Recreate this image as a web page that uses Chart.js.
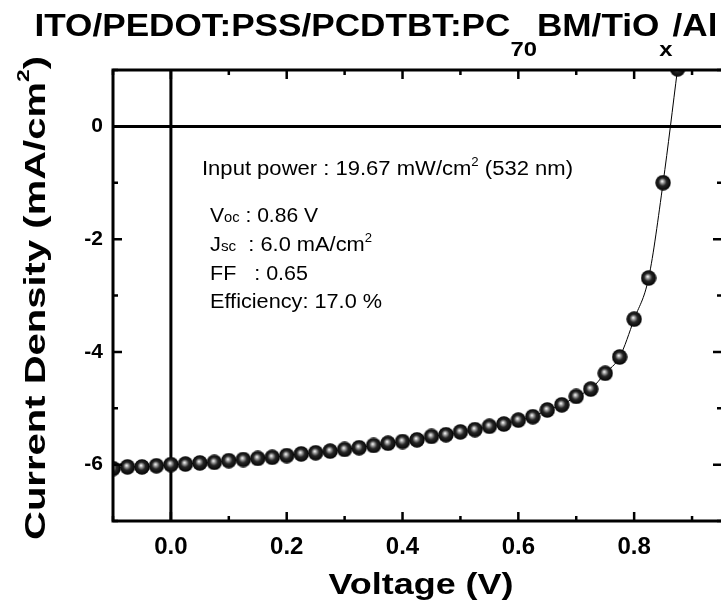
<!DOCTYPE html>
<html>
<head>
<meta charset="utf-8">
<script src="https://cdn.jsdelivr.net/npm/chart.js@4.4.1/dist/chart.umd.min.js"></script>
<style>
  html, body { margin: 0; padding: 0; background: #fff; }
  #wrap { width: 721px; height: 605px; }
</style>
</head>
<body>
<div id="wrap"><canvas id="jv" width="721" height="605"></canvas></div>
<script>
// J-V data (V, mA/cm2)
const voltage = [-0.1, -0.075, -0.05, -0.025, 0, 0.025, 0.05, 0.075, 0.1, 0.125,
  0.15, 0.175, 0.2, 0.225, 0.25, 0.275, 0.3, 0.325, 0.35, 0.375,
  0.4, 0.425, 0.45, 0.475, 0.5, 0.525, 0.55, 0.575, 0.6, 0.625,
  0.65, 0.675, 0.7, 0.725, 0.75, 0.775, 0.8, 0.825, 0.85, 0.875];
const currentDensity = [-6.07, -6.04, -6.04, -6.02, -6.00, -5.99, -5.97, -5.96, -5.93, -5.91,
  -5.89, -5.87, -5.84, -5.81, -5.79, -5.76, -5.73, -5.70, -5.66, -5.62,
  -5.59, -5.56, -5.50, -5.47, -5.42, -5.38, -5.32, -5.28, -5.21, -5.15,
  -5.03, -4.94, -4.79, -4.66, -4.38, -4.09, -3.42, -2.69, -1.00, 1.02];

const xMajorTicks = [0, 0.2, 0.4, 0.6, 0.8];
const xMinorTicks = [-0.1, 0.1, 0.3, 0.5, 0.7, 0.9];
const yMajorTicks = [0, -2, -4, -6];
const yMinorTicks = [1, -1, -3, -5, -7];

const FONT = 'Arial, "Liberation Sans", sans-serif';

// little shaded ball used as the marker
function makeBall(d) {
  const c = document.createElement('canvas');
  c.width = d; c.height = d;
  const g = c.getContext('2d');
  const r = d / 2;
  const grad = g.createRadialGradient(r - 1, r - 1.5, 0.3, r, r, r);
  grad.addColorStop(0, '#f4f4f4');
  grad.addColorStop(0.2, '#9a9a9a');
  grad.addColorStop(0.48, '#262626');
  grad.addColorStop(1, '#000');
  g.fillStyle = grad;
  g.beginPath();
  g.arc(r, r, r - 0.3, 0, Math.PI * 2);
  g.fill();
  return c;
}

// draws a row of text pieces (sub/superscripts), optionally fitted to a width
function drawRich(ctx, parts, x, y, align, fitWidth) {
  let w = 0;
  parts.forEach(p => { ctx.font = p.font; p.w = ctx.measureText(p.text).width; w += p.w; });
  const sx = fitWidth ? fitWidth / w : 1;
  ctx.save();
  ctx.translate(x, y);
  ctx.scale(sx, 1);
  let cx = align === 'center' ? -w / 2 : 0;
  ctx.textBaseline = 'alphabetic';
  ctx.textAlign = 'left';
  ctx.fillStyle = '#000';
  parts.forEach(p => {
    ctx.font = p.font;
    ctx.fillText(p.text, cx, p.dy || 0);
    cx += p.w;
  });
  ctx.restore();
}

const decorations = {
  id: 'decorations',
  beforeDatasetsDraw(chart) {
    const { ctx, chartArea: a, scales: { x, y } } = chart;
    ctx.save();
    ctx.strokeStyle = '#000';
    ctx.lineWidth = 3;
    ctx.beginPath();
    ctx.moveTo(x.getPixelForValue(0), a.top);
    ctx.lineTo(x.getPixelForValue(0), a.bottom);
    ctx.moveTo(a.left, y.getPixelForValue(0));
    ctx.lineTo(a.right, y.getPixelForValue(0));
    ctx.stroke();
    ctx.restore();
  },
  afterDatasetsDraw(chart) {
    const { ctx, chartArea: a, scales: { x, y } } = chart;
    ctx.save();
    ctx.strokeStyle = '#000';
    ctx.lineWidth = 3;
    // frame: the right edge falls just outside the picture
    ctx.beginPath();
    ctx.moveTo(a.right + 2, a.top);
    ctx.lineTo(a.left, a.top);
    ctx.lineTo(a.left, a.bottom);
    ctx.lineTo(a.right + 2, a.bottom);
    ctx.stroke();
    ctx.lineWidth = 2.5;
    ctx.beginPath();
    const xt = (list, len) => list.forEach(v => {
      const px = x.getPixelForValue(v);
      ctx.moveTo(px, a.bottom); ctx.lineTo(px, a.bottom - len);
      ctx.moveTo(px, a.top); ctx.lineTo(px, a.top + len);
    });
    const yt = (list, len) => list.forEach(v => {
      const py = y.getPixelForValue(v);
      ctx.moveTo(a.left, py); ctx.lineTo(a.left + len, py);
      ctx.moveTo(a.right + 1, py); ctx.lineTo(a.right + 1 - len, py);
    });
    xt(xMajorTicks, 9); xt(xMinorTicks, 5);
    yt(yMajorTicks, 9); yt(yMinorTicks, 5);
    ctx.stroke();
    ctx.restore();

    // titles
    const B = s => 'bold ' + s + 'px ' + FONT;
    drawRich(ctx, [
      { text: 'ITO/PEDOT:PSS/PCDTBT:PC', font: B(31) },
      { text: '70', font: B(21), dy: 20 },
      { text: 'BM/TiO', font: B(31) },
      { text: 'x', font: B(21), dy: 20 },
      { text: '/Al', font: B(31) }
    ], 376, 36, 'center', 683);
    drawRich(ctx, [{ text: 'Voltage (V)', font: B(30) }], 421, 594, 'center', 185);
    ctx.save();
    ctx.translate(45, 298);
    ctx.rotate(-Math.PI / 2);
    drawRich(ctx, [
      { text: 'Current Density (mA/cm', font: B(30) },
      { text: '2', font: B(17), dy: -16 },
      { text: ')', font: B(30) }
    ], 0, 0, 'center', 484);
    ctx.restore();

    // device parameters
    const N = s => s + 'px ' + FONT;
    drawRich(ctx, [
      { text: 'Input power : 19.67 mW/cm', font: N(20) },
      { text: '2', font: N(12), dy: -9 },
      { text: ' (532 nm)', font: N(20) }
    ], 202, 175, 'left', 371);
    drawRich(ctx, [
      { text: 'V', font: N(20) },
      { text: 'oc', font: N(14) },
      { text: ' : 0.86 V', font: N(20) }
    ], 210, 222, 'left', 108);
    drawRich(ctx, [
      { text: 'J', font: N(20) },
      { text: 'sc', font: N(14) },
      { text: '  : 6.0 mA/cm', font: N(20) },
      { text: '2', font: N(12), dy: -9 }
    ], 210, 251, 'left', 162);
    drawRich(ctx, [{ text: 'FF   : 0.65', font: N(20) }], 210, 280, 'left', 98);
    drawRich(ctx, [{ text: 'Efficiency: 17.0 %', font: N(20) }], 210, 308, 'left', 172);
  }
};

const points = voltage.map((v, i) => ({ x: v, y: currentDensity[i] }));

new Chart(document.getElementById('jv'), {
  type: 'line',
  data: {
    datasets: [{
      data: points,
      borderColor: '#000',
      borderWidth: 1,
      cubicInterpolationMode: 'monotone',
      pointStyle: makeBall(16),
      pointRadius: 8,
      fill: false
    }]
  },
  options: {
    responsive: false,
    animation: false,
    devicePixelRatio: 1,
    layout: { autoPadding: false, padding: { top: 70, right: -1, left: 0, bottom: 0 } },
    plugins: { legend: { display: false }, tooltip: { enabled: false } },
    scales: {
      x: {
        type: 'linear',
        min: -0.1,
        max: 0.95,
        grid: { display: false, drawTicks: false },
        border: { display: false },
        afterBuildTicks: s => { s.ticks = xMajorTicks.map(v => ({ value: v })); },
        afterFit: s => { s.height = 84; },
        ticks: {
          padding: 12,
          color: '#000',
          font: { family: FONT, size: 24, weight: 'bold' },
          callback: v => v.toFixed(1)
        }
      },
      y: {
        type: 'linear',
        min: -7,
        max: 1,
        grid: { display: false, drawTicks: false },
        border: { display: false },
        afterBuildTicks: s => { s.ticks = yMajorTicks.map(v => ({ value: v })); },
        afterFit: s => { s.width = 113; },
        ticks: {
          padding: 10,
          color: '#000',
          font: { family: FONT, size: 21, weight: 'bold' },
          callback: v => String(v)
        }
      }
    }
  },
  plugins: [decorations]
});
</script>
</body>
</html>
